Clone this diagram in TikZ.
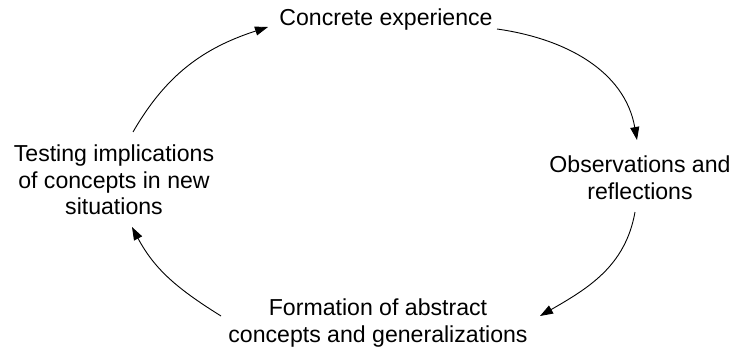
\documentclass[tikz,border=0pt]{standalone}
\usepackage{fontspec}
\setmainfont{Liberation Sans}
\usetikzlibrary{arrows.meta}
\begin{document}
\begin{tikzpicture}[x=1pt,y=-1pt,
  stage/.style={align=center,inner sep=0pt,font=\fontsize{23.1}{26.6}\selectfont},
  cycle/.style={-{Triangle[length=13pt,width=9pt]},line width=0.9pt}]
\useasboundingbox (0,0) rectangle (731,353);
\node[stage] (conc) at (386,20) {Concrete experience};
\node[stage] (obs)  at (640,178) {Observations and\\reflections};
\node[stage] (form) at (378,323) {Formation of abstract\\concepts and generalizations};
\node[stage] (test) at (114,180) {Testing implications\\of concepts in new\\situations};
% arc ends next to each stage
\coordinate (c-in)  at (268,27);
\coordinate (c-out) at (497,29);
\coordinate (o-in)  at (637,140);
\coordinate (o-out) at (635,212);
\coordinate (f-in)  at (540,316);
\coordinate (f-out) at (221,316);
\coordinate (t-in)  at (132,227);
\coordinate (t-out) at (133,132);
\draw[cycle] (t-out) to[out=60,in=198] (c-in);
\draw[cycle] (c-out) to[out=-8,in=100] (o-in);
\draw[cycle] (o-out) to[out=-100,in=30] (f-in);
\draw[cycle] (f-out) to[out=148,in=-62] (t-in);
\end{tikzpicture}
\end{document}
